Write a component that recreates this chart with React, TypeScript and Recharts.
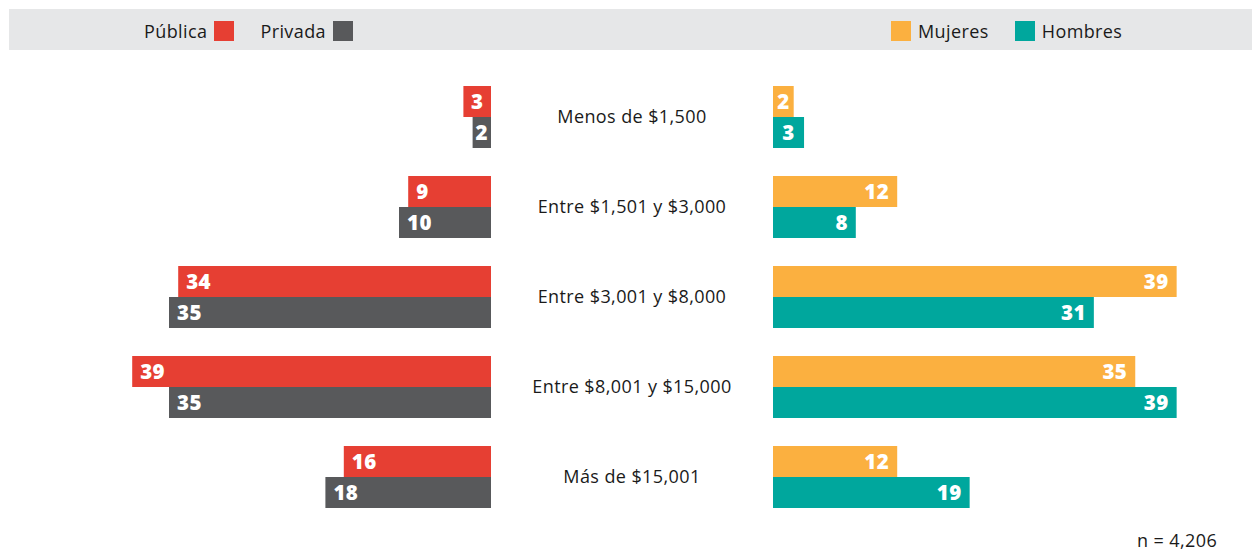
import { type FC } from 'react';
import { Bar, BarChart, LabelList, XAxis, YAxis } from 'recharts';

const categories = [
  'Menos de $1,500',
  'Entre $1,501 y $3,000',
  'Entre $3,001 y $8,000',
  'Entre $8,001 y $15,000',
  'Más de $15,001',
];
const publica = [3, 9, 34, 39, 16];
const privada = [2, 10, 35, 35, 18];
const mujeres = [2, 12, 39, 35, 12];
const hombres = [3, 8, 31, 39, 19];

const sectorData = categories.map((cat, i) => ({ cat, publica: publica[i], privada: privada[i] }));
const sexData = categories.map((cat, i) => ({ cat, mujeres: mujeres[i], hombres: hombres[i] }));

const FONT = '"Open Sans", Lato, sans-serif';
const COLORS = { publica: '#e63f33', privada: '#58595b', mujeres: '#fbb040', hombres: '#00a79d' };
const margin = { top: 72, right: 0, bottom: 30, left: 0 };

// value labels sit at the outer end of each bar, centered when the bar is too thin
const valueLabel = (side: 'left' | 'right') => (props: any) => {
  const { x, y, width, height, value } = props;
  const x0 = Math.min(x, x + width);
  const x1 = Math.max(x, x + width);
  const w = x1 - x0;
  let tx = side === 'left' ? x0 + 8 : x1 - 8;
  let anchor: 'start' | 'end' | 'middle' = side === 'left' ? 'start' : 'end';
  if (w < 36) {
    tx = (x0 + x1) / 2;
    anchor = 'middle';
  }
  return (
    <text x={tx} y={y + height / 2} dy="0.36em" textAnchor={anchor} fill="#fff" fontSize={20.5} fontWeight={800} fontFamily={FONT}>
      {value}
    </text>
  );
};

const CategoryTick = (props: any) => {
  const { x, y, payload } = props;
  return (
    <text x={x - 141} y={y} dy="0.35em" textAnchor="middle" fill="#1a1a1a" fontSize={18} letterSpacing={0.4} fontFamily={FONT}>
      {payload.value}
    </text>
  );
};

const LegendItem: FC<{ label: string; color: string; swatchFirst?: boolean }> = ({ label, color, swatchFirst }) => (
  <div style={{ display: 'flex', alignItems: 'center', gap: 7 }}>
    {swatchFirst && <span style={{ width: 20, height: 20, background: color }} />}
    <span>{label}</span>
    {!swatchFirst && <span style={{ width: 20, height: 20, background: color }} />}
  </div>
);

export default function App() {
  return (
    <div style={{ position: 'absolute', left: 0, top: 0, width: 1253, height: 552, background: '#fff', fontFamily: FONT, color: '#1a1a1a', fontSize: 18, letterSpacing: 0.4 }}>
      <div style={{ position: 'absolute', left: 9, top: 9, width: 1243, height: 41, background: '#e6e7e8' }}>
        <div style={{ position: 'absolute', left: 135, top: 10, display: 'flex', gap: 26 }}>
          <LegendItem label="Pública" color={COLORS.publica} />
          <LegendItem label="Privada" color={COLORS.privada} />
        </div>
        <div style={{ position: 'absolute', left: 882, top: 10, display: 'flex', gap: 26 }}>
          <LegendItem label="Mujeres" color={COLORS.mujeres} swatchFirst />
          <LegendItem label="Hombres" color={COLORS.hombres} swatchFirst />
        </div>
      </div>

      <div style={{ position: 'absolute', left: 0, top: 0 }}>
        <BarChart width={500} height={552} data={sectorData} layout="vertical" margin={{ ...margin, left: 123, right: 9 }} barSize={31} barGap={0} barCategoryGap={14}>
          <XAxis type="number" domain={[0, 40]} reversed hide />
          <YAxis type="category" dataKey="cat" hide />
          <Bar dataKey="publica" fill={COLORS.publica} isAnimationActive={false}>
            <LabelList dataKey="publica" content={valueLabel('left')} />
          </Bar>
          <Bar dataKey="privada" fill={COLORS.privada} isAnimationActive={false}>
            <LabelList dataKey="privada" content={valueLabel('left')} />
          </Bar>
        </BarChart>
      </div>

      <div style={{ position: 'absolute', left: 490, top: 0 }}>
        <BarChart width={763} height={552} data={sexData} layout="vertical" margin={{ ...margin, right: 66 }} barSize={31} barGap={0} barCategoryGap={14}>
          <XAxis type="number" domain={[0, 40]} hide />
          <YAxis type="category" dataKey="cat" width={283} axisLine={false} tickLine={false} tickSize={0} tickMargin={0} tick={<CategoryTick />} />
          <Bar dataKey="mujeres" fill={COLORS.mujeres} isAnimationActive={false}>
            <LabelList dataKey="mujeres" content={valueLabel('right')} />
          </Bar>
          <Bar dataKey="hombres" fill={COLORS.hombres} isAnimationActive={false}>
            <LabelList dataKey="hombres" content={valueLabel('right')} />
          </Bar>
        </BarChart>
      </div>

      <div style={{ position: 'absolute', left: 1137, top: 531, lineHeight: 1 }}>n = 4,206</div>
    </div>
  );
}
